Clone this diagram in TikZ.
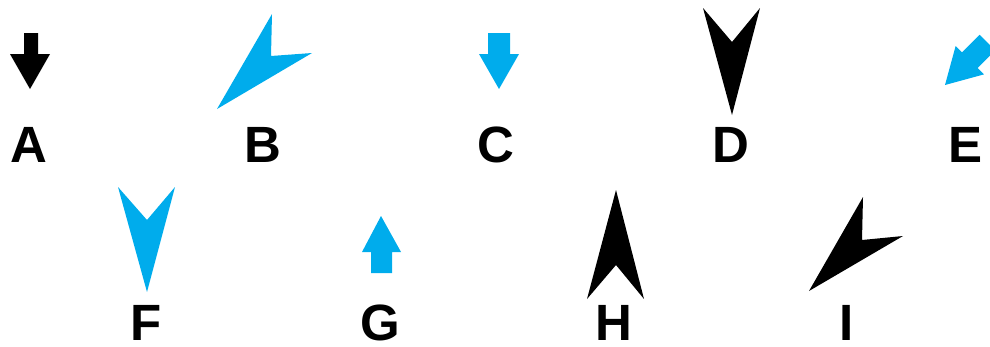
\documentclass[tikz,border=0pt]{standalone}
\usepackage{fontspec}
\setmainfont{Liberation Sans}
\definecolor{skyblue}{RGB}{0,172,236}
\begin{document}
\begin{tikzpicture}[x=1pt,y=-1pt,
  lbl/.style={font=\bfseries\fontsize{51}{51}\selectfont, anchor=base, inner sep=0pt, text=black},
  blk/.style={fill=black, draw=none},
  blu/.style={fill=skyblue, draw=none}]
\useasboundingbox (0,0) rectangle (990,346);
\begin{scope}
\clip (0,0) rectangle (990,346);
% A: black block arrow down
\fill[blk] (24,33) -- (38,33) -- (38,54) -- (50,54) -- (30,89) -- (10,54) -- (24,54) -- cycle;
% B: blue kite
\fill[blu] (217,109) -- (272,14) -- (271,56) -- (312,53) -- cycle;
% C: blue block arrow down
\fill[blu] (488,33) -- (510,33) -- (510,54) -- (519,54) -- (499,89) -- (479,54) -- (488,54) -- cycle;
% D: black kite down
\fill[blk] (732,115) -- (703,8) -- (732,42) -- (760,8) -- cycle;
% E: blue block arrow down-left
\begin{scope}[shift={(945,85)}, rotate=-45]
\fill[blu] (0,0) -- (-20,-35) -- (-11,-35) -- (-11,-60) -- (11,-60) -- (11,-35) -- (20,-35) -- cycle;
\end{scope}
% F: blue kite down
\fill[blu] (147,292) -- (118,187) -- (147,220) -- (175,187) -- cycle;
% G: blue block arrow up
\fill[blu] (381,216) -- (401,252) -- (392,252) -- (392,273) -- (371,273) -- (371,252) -- (362,252) -- cycle;
% H: black kite up
\fill[blk] (616,190) -- (644,299) -- (616,265) -- (587,299) -- cycle;
% I: black kite
\fill[blk] (809,291) -- (863,197) -- (862,240) -- (903,236) -- cycle;
\end{scope}
\node[lbl] (la) at (29,162) {A};
\node[lbl] (lb) at (263,162) {B};
\node[lbl] (lc) at (496,162) {C};
\node[lbl] (ld) at (731,162) {D};
\node[lbl] (le) at (965,162) {E};
\node[lbl] (lf) at (146,340) {F};
\node[lbl] (lg) at (380,340) {G};
\node[lbl] (lh) at (614,340) {H};
\node[lbl] (li) at (847,340) {I};
\end{tikzpicture}
\end{document}
